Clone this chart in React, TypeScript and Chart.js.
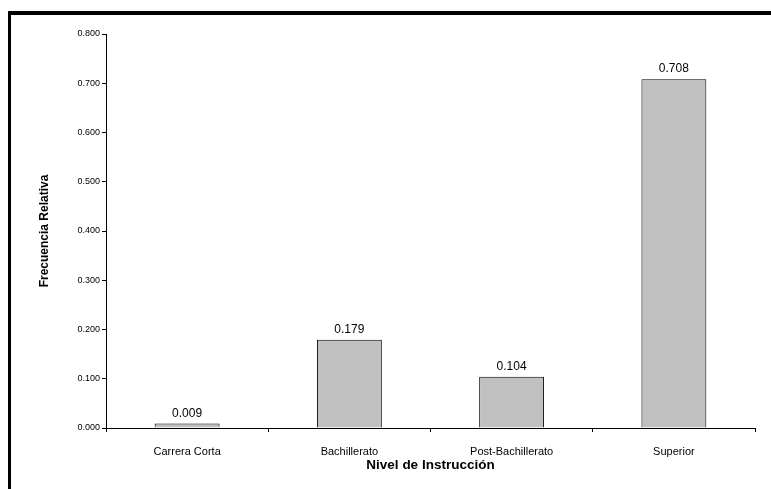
import React, { useEffect, useRef } from "react";
import { Chart, registerables } from "chart.js";

Chart.register(...registerables);

const categories = ["Carrera Corta", "Bachillerato", "Post-Bachillerato", "Superior"];
const values = [0.009, 0.179, 0.104, 0.708];
const yTickValues = [0, 0.1, 0.2, 0.3, 0.4, 0.5, 0.6, 0.7, 0.8];
const yTitle = "Frecuencia Relativa";
const xTitle = "Nivel de Instrucción";

const FONT = "'Liberation Sans', Arial, sans-serif";

const framePlugin = {
  id: "frame",
  beforeDraw(chart: any) {
    const ctx = chart.ctx;
    ctx.save();
    ctx.fillStyle = "#ffffff";
    ctx.fillRect(0, 0, chart.width, chart.height);
    ctx.fillStyle = "#000000";
    ctx.fillRect(8, 11, 3, chart.height - 11);
    ctx.fillRect(8, 11, chart.width - 8, 4);
    ctx.restore();
  },
};

const valueLabelPlugin = {
  id: "valueLabels",
  afterDatasetsDraw(chart: any) {
    const ctx = chart.ctx;
    const meta = chart.getDatasetMeta(0);
    ctx.save();
    ctx.font = `12px ${FONT}`;
    ctx.fillStyle = "#000000";
    ctx.textAlign = "center";
    ctx.textBaseline = "alphabetic";
    meta.data.forEach((bar: any, i: number) => {
      ctx.fillText(values[i].toFixed(3), bar.x, bar.y - 7);
    });
    ctx.restore();
  },
};

export default function App() {
  const canvasRef = useRef<HTMLCanvasElement | null>(null);

  useEffect(() => {
    const canvas = canvasRef.current;
    if (!canvas) return;
    const chart = new Chart(canvas, {
      type: "bar",
      data: {
        labels: categories,
        datasets: [
          {
            data: values,
            backgroundColor: "#c0c0c0",
            borderColor: "#000000",
            borderWidth: 1,
            barPercentage: 0.4,
            categoryPercentage: 1.0,
          },
        ],
      },
      options: {
        animation: false,
        responsive: false,
        devicePixelRatio: 1,
        layout: { padding: { left: 0, top: 34, right: 16, bottom: 0 } },
        plugins: {
          legend: { display: false },
          tooltip: { enabled: false },
          title: { display: false },
        },
        scales: {
          x: {
            afterFit(scale: any) {
              scale.height = 61;
            },
            grid: {
              offset: true,
              drawOnChartArea: false,
              drawTicks: true,
              tickLength: 4,
              color: "#000000",
            },
            border: { display: true, color: "#000000", width: 1 },
            ticks: {
              color: "#000000",
              font: { family: FONT, size: 11 },
              padding: 13,
              maxRotation: 0,
              autoSkip: false,
            },
            title: {
              display: true,
              text: xTitle,
              color: "#000000",
              font: { family: FONT, size: 13.5, weight: "bold", lineHeight: 1 },
              padding: { top: 0, bottom: 17 },
            },
          },
          y: {
            min: 0,
            max: 0.8,
            afterFit(scale: any) {
              scale.width = 106;
            },
            afterBuildTicks(scale: any) {
              scale.ticks = yTickValues.map((v) => ({ value: v }));
            },
            grid: {
              drawOnChartArea: false,
              drawTicks: true,
              tickLength: 4,
              color: "#000000",
            },
            border: { display: true, color: "#000000", width: 1 },
            ticks: {
              color: "#000000",
              font: { family: FONT, size: 9 },
              padding: 2,
              callback: (v: any) => Number(v).toFixed(3),
            },
            title: {
              display: true,
              text: yTitle,
              color: "#000000",
              font: { family: FONT, size: 12, weight: "bold", lineHeight: 1 },
              padding: { top: 39, bottom: 0 },
            },
          },
        },
      },
      plugins: [framePlugin, valueLabelPlugin],
    });
    return () => chart.destroy();
  }, []);

  return (
    <div style={{ position: "fixed", left: 0, top: 0, width: 771, height: 489, background: "#fff" }}>
      <canvas ref={canvasRef} width={771} height={489} style={{ display: "block", width: 771, height: 489 }} />
    </div>
  );
}
